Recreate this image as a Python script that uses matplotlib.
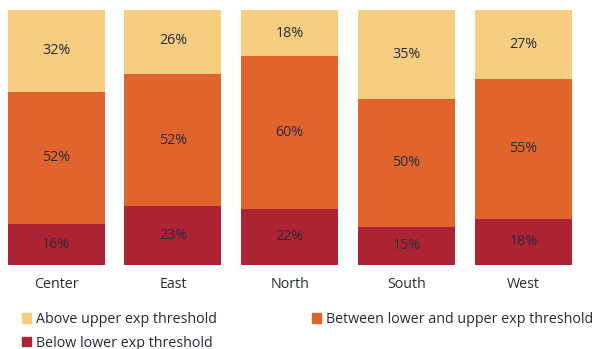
import matplotlib.pyplot as plt
import numpy as np
from matplotlib.patches import Patch

plt.rcParams['font.family'] = ['Open Sans', 'DejaVu Sans']

regions = ["Center", "East", "North", "South", "West"]
below = [16, 23, 22, 15, 18]
between = [52, 52, 60, 50, 55]
above = [32, 26, 18, 35, 27]

c_below = "#AE2334"
c_between = "#E2642D"
c_above = "#F5CE80"
txt = "#262B3A"
fs = 10.3

fig = plt.figure(figsize=(5.95, 3.49), dpi=100)
ax = fig.add_axes([-0.004, 0.241, 0.982, 0.730])

x = np.arange(len(regions))
w = 0.83
ax.bar(x, below, w, color=c_below)
ax.bar(x, between, w, bottom=below, color=c_between)
base = np.array(below) + np.array(between)
ax.bar(x, above, w, bottom=base, color=c_above)

# percentage labels in the middle of each segment
for i in range(len(regions)):
    ax.text(x[i], below[i] / 2, f"{below[i]}%", ha="center", va="center",
            fontsize=fs, color=txt)
    ax.text(x[i], below[i] + between[i] / 2, f"{between[i]}%", ha="center",
            va="center", fontsize=fs, color=txt)
    ax.text(x[i], base[i] + above[i] / 2, f"{above[i]}%", ha="center",
            va="center", fontsize=fs, color=txt)

ax.set_xlim(-0.5, 4.5)
ax.set_ylim(0, 100)
ax.set_xticks(x)
ax.set_xticklabels(regions, fontsize=fs, color=txt)
ax.tick_params(axis="x", length=0, pad=9)
ax.set_yticks([])
for s in ax.spines.values():
    s.set_visible(False)

handles = [Patch(color=c_above), Patch(color=c_below), Patch(color=c_between)]
labels = ["Above upper exp threshold", "Below lower exp threshold",
          "Between lower and upper exp threshold"]
fig.legend(handles, labels, ncol=2, loc="upper left",
           bbox_to_anchor=(0.037, 0.106), frameon=False, fontsize=10.25,
           handlelength=0.65, handleheight=0.65, handletextpad=0.35,
           columnspacing=6.65, labelspacing=0.6, borderaxespad=0,
           borderpad=0, labelcolor=txt)

fig.savefig("out.png", dpi=100)
